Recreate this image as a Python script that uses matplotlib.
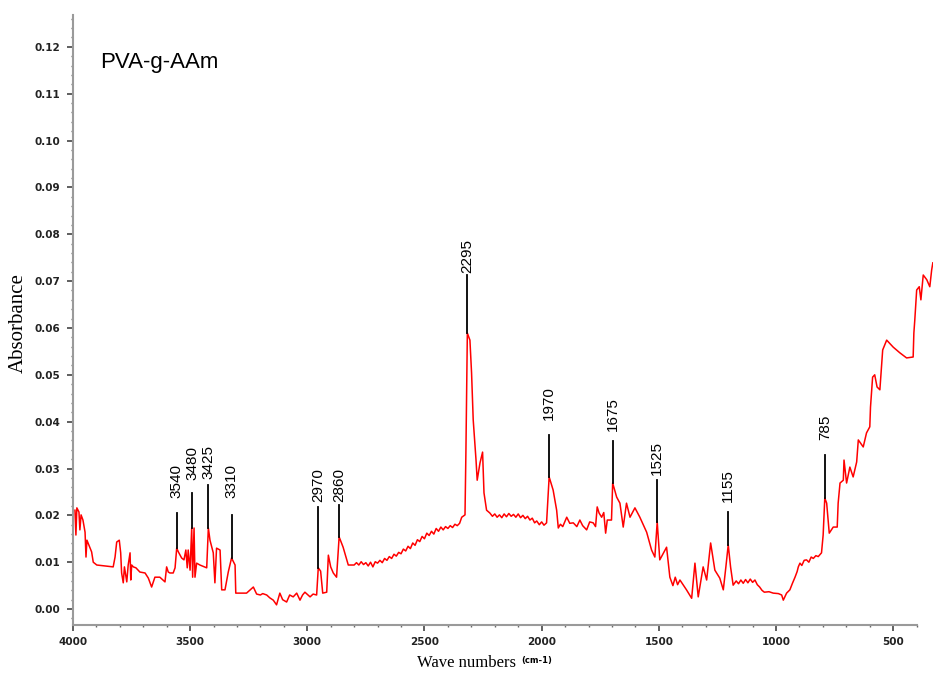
import matplotlib
matplotlib.use("Agg")
import matplotlib.pyplot as plt
from matplotlib.ticker import MultipleLocator

# Spectrum trace (wavenumber cm-1, absorbance), in segments
wn_1 = [3991, 3987, 3983, 3974, 3970, 3965, 3957, 3948, 3944, 3940, 3920, 3913, 3898, 3828,
        3820, 3813, 3802, 3796, 3792, 3785, 3780, 3770, 3764, 3756, 3753, 3749, 3742, 3731,
        3714, 3692, 3678, 3664, 3650, 3629, 3607, 3600, 3593, 3586, 3572, 3564, 3557, 3550,
        3536, 3526, 3518, 3512, 3508, 3500, 3493, 3489, 3483, 3479, 3472, 3458, 3429, 3422,
        3415, 3401, 3394, 3387, 3372, 3365, 3351, 3337, 3323, 3308, 3305]
ab_1 = [0.0211, 0.0158, 0.0216, 0.0207, 0.0169, 0.0201, 0.0190, 0.0164, 0.0111, 0.0147,
        0.0122, 0.0100, 0.0094, 0.0090, 0.0111, 0.0143, 0.0147, 0.0120, 0.0077, 0.0056,
        0.0090, 0.0058, 0.0094, 0.0120, 0.0062, 0.0094, 0.0090, 0.0088, 0.0079, 0.0077,
        0.0066, 0.0047, 0.0068, 0.0068, 0.0058, 0.0090, 0.0079, 0.0077, 0.0077, 0.0088,
        0.0130, 0.0122, 0.0109, 0.0105, 0.0126, 0.0088, 0.0126, 0.0083, 0.0173, 0.0068,
        0.0173, 0.0068, 0.0098, 0.0094, 0.0088, 0.0173, 0.0147, 0.0120, 0.0056, 0.0130,
        0.0126, 0.0041, 0.0041, 0.0079, 0.0109, 0.0094, 0.0034]

wn_2 = [3259, 3230, 3216, 3200, 3190, 3173, 3160, 3145, 3131, 3117, 3105, 3088, 3075, 3060,
        3045, 3031, 3020, 3010, 2988, 2975, 2960, 2953, 2943, 2934, 2917, 2910, 2900, 2889,
        2875, 2864, 2847, 2825, 2800, 2790, 2780, 2770, 2760, 2750, 2740, 2730, 2720, 2710,
        2700, 2690, 2680, 2670, 2660, 2650, 2640, 2630, 2620, 2610, 2600, 2590, 2580, 2570,
        2560, 2550, 2540, 2530, 2520, 2510, 2500, 2490, 2480, 2470, 2460, 2450, 2440, 2430,
        2420, 2410, 2400, 2390, 2380, 2370, 2360, 2350, 2341]
ab_2 = [0.0034, 0.0047, 0.0032, 0.0030, 0.0033, 0.0030, 0.0024, 0.0019, 0.0009, 0.0034,
        0.0020, 0.0015, 0.0030, 0.0026, 0.0034, 0.0019, 0.0030, 0.0036, 0.0026, 0.0032,
        0.0030, 0.0088, 0.0081, 0.0034, 0.0036, 0.0115, 0.0090, 0.0077, 0.0068, 0.0154,
        0.0132, 0.0094,
        0.0094, 0.0099, 0.0094, 0.0101, 0.0095, 0.0099, 0.0092, 0.0100, 0.0090, 0.0101,
        0.0098, 0.0104, 0.0099, 0.0108, 0.0104, 0.0112, 0.0108, 0.0117, 0.0113, 0.0121,
        0.0118, 0.0128, 0.0124, 0.0134, 0.0129, 0.0141, 0.0136, 0.0148, 0.0144, 0.0155,
        0.0150, 0.0162, 0.0157, 0.0166, 0.0160, 0.0172, 0.0166, 0.0175, 0.0169, 0.0176,
        0.0172, 0.0178, 0.0174, 0.0181, 0.0178, 0.0183, 0.0196]

wn_3 = [2327, 2323, 2317, 2306, 2299, 2292, 2280, 2275, 2263, 2252, 2246, 2235, 2221, 2210,
        2200, 2190, 2180, 2170, 2160, 2150, 2140, 2130, 2120, 2110, 2100, 2090, 2080, 2070,
        2060, 2050, 2040, 2030, 2021, 2010, 2000, 1990, 1979]
ab_3 = [0.0201, 0.0340, 0.0589, 0.0574, 0.0504, 0.0404, 0.0318, 0.0275, 0.0312, 0.0335,
        0.0248, 0.0211, 0.0205, 0.0198, 0.0203, 0.0196, 0.0201, 0.0195, 0.0203, 0.0197,
        0.0204, 0.0198, 0.0202, 0.0196, 0.0203, 0.0195, 0.0200, 0.0193, 0.0198, 0.0190,
        0.0194, 0.0184, 0.0188, 0.0180, 0.0186, 0.0179, 0.0184]

wn_4 = [1968, 1951, 1936, 1929, 1920, 1910, 1893, 1880, 1865, 1850, 1837, 1825, 1808, 1795,
        1780, 1770, 1763, 1755, 1744, 1735, 1727, 1720, 1702, 1697, 1680, 1666, 1652, 1638,
        1623, 1602, 1581, 1552, 1531, 1517, 1507, 1496, 1467, 1453, 1440, 1430, 1420, 1410,
        1382, 1360, 1346, 1332, 1311, 1296, 1279, 1261, 1240, 1225, 1214, 1204, 1194]
ab_4 = [0.0282, 0.0254, 0.0211, 0.0173, 0.0181, 0.0176, 0.0196, 0.0183, 0.0184, 0.0176,
        0.0190, 0.0178, 0.0169, 0.0186, 0.0184, 0.0176, 0.0218, 0.0205, 0.0196, 0.0206,
        0.0162, 0.0190, 0.0190, 0.0269, 0.0239, 0.0226, 0.0175, 0.0226, 0.0196, 0.0216,
        0.0196, 0.0164, 0.0126, 0.0111, 0.0186, 0.0105, 0.0132, 0.0068, 0.0050, 0.0068,
        0.0052, 0.0062, 0.0041, 0.0023, 0.0098, 0.0026, 0.0090, 0.0062, 0.0141, 0.0083,
        0.0066, 0.0041, 0.0090, 0.0137, 0.0090]

wn_5 = [1183, 1170, 1160, 1150, 1140, 1130, 1120, 1110, 1100, 1090, 1080, 1070, 1060, 1050,
        1030, 1012, 990, 976, 969, 955, 941, 930, 919, 910, 905, 898, 890, 880, 870, 860,
        850, 841, 830, 820, 806]
ab_5 = [0.0051, 0.0060, 0.0054, 0.0062, 0.0055, 0.0063, 0.0056, 0.0064, 0.0057, 0.0062,
        0.0052, 0.0047, 0.0040, 0.0036, 0.0037, 0.0034, 0.0033, 0.0030, 0.0019, 0.0034,
        0.0041, 0.0055, 0.0068, 0.0080, 0.0090, 0.0098, 0.0093, 0.0104, 0.0105, 0.0100,
        0.0111, 0.0108, 0.0114, 0.0112, 0.0120]

wn_6 = [799, 792, 784, 773, 756, 739, 735, 727, 713, 710, 699, 685, 671, 656, 649, 628, 614,
        600, 597, 588, 579, 569, 557, 545, 528, 500, 472, 443, 415, 412, 408, 400, 389, 382,
        372, 357, 344, 336, 331]
ab_6 = [0.0158, 0.0237, 0.0226, 0.0162, 0.0175, 0.0175, 0.0226, 0.0269, 0.0275, 0.0318,
        0.0269, 0.0303, 0.0282, 0.0314, 0.0361, 0.0346, 0.0376, 0.0389, 0.0431, 0.0495,
        0.0500, 0.0474, 0.0468, 0.0553, 0.0574, 0.0559, 0.0547, 0.0536, 0.0538, 0.0589,
        0.0617, 0.0681, 0.0688, 0.0660, 0.0713, 0.0703, 0.0688, 0.0724, 0.0739]

# Peak annotations: label text, position in the picture, peak height, line top, label base
peak_labels = ["3540", "3480", "3425", "3310", "2970", "2860", "2295", "1970", "1675",
               "1525", "1155", "785"]
peak_pos = [3557, 3490, 3422, 3323, 2953, 2864, 2317, 1968, 1697, 1507, 1204, 792]
peak_abs = [0.0130, 0.0173, 0.0173, 0.0109, 0.0088, 0.0154, 0.0589, 0.0282, 0.0269,
            0.0186, 0.0137, 0.0237]
line_top = [0.0205, 0.0247, 0.0265, 0.0201, 0.0218, 0.0222, 0.0713, 0.0372, 0.0359,
            0.0275, 0.0208, 0.0329]
label_base = [0.0237, 0.0275, 0.0278, 0.0237, 0.0229, 0.0229, 0.0717, 0.0404, 0.0379,
              0.0286, 0.0229, 0.0361]

x_ticks = [4000, 3500, 3000, 2500, 2000, 1500, 1000, 500]
y_ticks = [0.00, 0.01, 0.02, 0.03, 0.04, 0.05, 0.06, 0.07, 0.08, 0.09, 0.10, 0.11, 0.12]

wavenumber = wn_1 + wn_2 + wn_3 + wn_4 + wn_5 + wn_6
absorbance = ab_1 + ab_2 + ab_3 + ab_4 + ab_5 + ab_6

fig = plt.figure(figsize=(9.33, 6.75), dpi=100)
ax = fig.add_axes([0.0781, 0.0741, 0.9044, 0.9037])

ax.plot(wavenumber, absorbance, color="#ff0000", lw=1.1, clip_on=False, zorder=3)

for lab, xp, yp, yt, yb in zip(peak_labels, peak_pos, peak_abs, line_top, label_base):
    ax.plot([xp, xp], [yp, yt], color="black", lw=1.3, zorder=4)
    ax.text(xp, yb, lab, rotation=90, ha="center", va="bottom",
            fontsize=11, family="Liberation Sans", color="black")

ax.set_xlim(4000, 400)
ax.set_ylim(-0.0034, 0.1268)
ax.set_xticks(x_ticks)
ax.set_yticks(y_ticks)
ax.set_xticklabels([str(v) for v in x_ticks])
ax.set_yticklabels(["%.2f" % v for v in y_ticks])
ax.xaxis.set_minor_locator(MultipleLocator(100))
ax.yaxis.set_minor_locator(MultipleLocator(0.002))
ax.tick_params(which="major", direction="out", length=4, width=1.2, color="#444444",
               labelsize=7.5, pad=5)
ax.tick_params(which="minor", direction="out", length=1.5, width=1, color="#666666")
for lbl in ax.get_xticklabels() + ax.get_yticklabels():
    lbl.set_fontweight("bold")
    lbl.set_color("#222222")

for s in ["top", "right"]:
    ax.spines[s].set_visible(False)
for s in ["left", "bottom"]:
    ax.spines[s].set_color("#9a9a9a")
    ax.spines[s].set_linewidth(1.5)

ax.text(0.032, 0.913, "PVA-g-AAm", transform=ax.transAxes, fontsize=16,
        family="Liberation Sans", ha="left", va="baseline")

fig.text(417 / 933, 1 - 663 / 675, "Wave numbers", family="Liberation Serif",
         fontsize=12, ha="left", va="center")
fig.text(521 / 933, 1 - 661 / 675, "(cm-1)", family="DejaVu Sans", fontsize=6,
         fontweight="bold", ha="left", va="center")
fig.text(18 / 933, 1 - 323 / 675, "Absorbance", family="Liberation Serif",
         fontsize=15, rotation=90, ha="center", va="center")

fig.savefig("out.png", dpi=100)
